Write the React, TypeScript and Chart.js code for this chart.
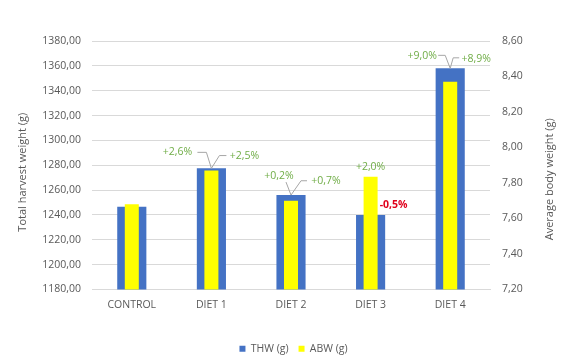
import React, { useEffect, useRef } from "react";
import { Chart, registerables } from "chart.js";

Chart.register(...registerables);

const categories = ["CONTROL", "DIET 1", "DIET 2", "DIET 3", "DIET 4"];
const thwValues = [1246.5, 1277.5, 1256, 1240, 1358];
const abwValues = [7.68, 7.87, 7.70, 7.835, 8.37];
const thwChange = ["", "+2,6%", "+0,2%", "-0,5%", "+9,0%"];
const abwChange = ["", "+2,5%", "+0,7%", "+2,0%", "+8,9%"];
const leftTitle = "Total harvest weight (g)";
const rightTitle = "Average body weight (g)";

const FONT = "'Open Sans', sans-serif";
const GREEN = "#70AD47";
const RED = "#E0001B";
const GRAY_TEXT = "#595959";

// label layout: offsets of text centre from the bar top; leader points relative to text centre
type Lay = { dx: number; dy: number; lead?: number[][] } | null;
const thwLayout: Lay[] = [
  null,
  { dx: -34, dy: -16, lead: [[20, 0], [29, 0]] },
  { dx: -12, dy: -19, lead: [[7, 6]] },
  { dx: 23, dy: -10 },
  { dx: -28, dy: -12, lead: [[16, -1], [23, -1]] },
];
const abwLayout: Lay[] = [
  null,
  { dx: 33, dy: -15, lead: [[-18, 0], [-25, 0]] },
  { dx: 35, dy: -20, lead: [[-19, 0], [-25, 0]] },
  { dx: 0, dy: -10 },
  { dx: 26, dy: -23, lead: [[-17, -1], [-23, -1]] },
];

const labelPlugin = {
  id: "pctLabels",
  afterDatasetsDraw(chart: any) {
    const ctx = chart.ctx;
    const m0 = chart.getDatasetMeta(0);
    const m1 = chart.getDatasetMeta(1);
    ctx.save();
    ctx.textAlign = "center";
    ctx.textBaseline = "middle";
    categories.forEach((_, i) => {
      const e0 = m0.data[i];
      const e1 = m1.data[i];
      const groupTop = Math.min(e0.y, e1.y);
      const items = [
        { el: e0, text: thwChange[i], lay: thwLayout[i] },
        { el: e1, text: abwChange[i], lay: abwLayout[i] },
      ];
      items.forEach(({ el, text, lay }) => {
        if (!text || !lay) return;
        const tx = el.x + lay.dx;
        const ty = el.y + lay.dy;
        if (lay.lead) {
          ctx.beginPath();
          ctx.strokeStyle = "#A6A6A6";
          ctx.lineWidth = 1;
          lay.lead.forEach((p, k) => {
            if (k === 0) ctx.moveTo(tx + p[0], ty + p[1]);
            else ctx.lineTo(tx + p[0], ty + p[1]);
          });
          ctx.lineTo(el.x, groupTop);
          ctx.stroke();
        }
        const neg = text.startsWith("-");
        ctx.fillStyle = neg ? RED : GREEN;
        ctx.font = `${neg ? "bold " : ""}10.5px ${FONT}`;
        ctx.fillText(text, tx, ty);
      });
    });
    ctx.restore();
  },
};

const titlePlugin = {
  id: "axisTitles",
  afterDraw(chart: any) {
    const ctx = chart.ctx;
    const a = chart.chartArea;
    const mid = (a.top + a.bottom) / 2;
    ctx.save();
    ctx.fillStyle = GRAY_TEXT;
    ctx.font = `11px ${FONT}`;
    ctx.textAlign = "center";
    ctx.textBaseline = "middle";
    ctx.translate(23, mid + 7);
    ctx.rotate(-Math.PI / 2);
    ctx.fillText(leftTitle, 0, 0);
    ctx.restore();
    ctx.save();
    ctx.fillStyle = GRAY_TEXT;
    ctx.font = `11px ${FONT}`;
    ctx.textAlign = "center";
    ctx.textBaseline = "middle";
    ctx.translate(a.right + 60, mid + 14);
    ctx.rotate(-Math.PI / 2);
    ctx.fillText(rightTitle, 0, 0);
    ctx.restore();
  },
};

const fmt = (v: any) => Number(v).toFixed(2).replace(".", ",");

export default function App() {
  const ref = useRef<HTMLCanvasElement>(null);
  useEffect(() => {
    if (!ref.current) return;
    const chart = new Chart(ref.current, {
      type: "bar",
      data: {
        labels: categories,
        datasets: [
          {
            label: "THW (g)",
            data: thwValues,
            yAxisID: "y",
            backgroundColor: "#4472C4",
            barPercentage: 0.366,
            categoryPercentage: 1,
            grouped: false,
            order: 2,
          },
          {
            label: "ABW (g)",
            data: abwValues,
            yAxisID: "y2",
            backgroundColor: "#FFFF00",
            barPercentage: 0.176,
            categoryPercentage: 1,
            grouped: false,
            order: 1,
          },
        ],
      },
      options: {
        responsive: false,
        animation: false,
        layout: { padding: { top: 41, left: 0, right: 0, bottom: 0 } },
        plugins: {
          legend: {
            position: "bottom",
            labels: {
              boxWidth: 6,
              boxHeight: 6,
              padding: 10,
              color: GRAY_TEXT,
              font: { family: FONT, size: 10.5 },
              sort: (a: any, b: any) => a.datasetIndex - b.datasetIndex,
            },
          },
          tooltip: { enabled: false },
        },
        scales: {
          x: {
            grid: { display: false, drawTicks: false },
            border: { display: true, color: "#D9D9D9" },
            ticks: { color: GRAY_TEXT, font: { family: FONT, size: 10.5 }, padding: 9 },
            afterFit: (s: any) => { s.height = 44; },
          },
          y: {
            position: "left",
            min: 1180,
            max: 1380,
            ticks: { stepSize: 20, color: GRAY_TEXT, font: { family: FONT, size: 10.5 }, padding: 11, callback: fmt },
            grid: { color: "#D9D9D9", drawTicks: false },
            border: { display: false },
            afterFit: (s: any) => { s.width = 92; },
          },
          y2: {
            position: "right",
            min: 7.2,
            max: 8.6,
            ticks: { stepSize: 0.2, color: GRAY_TEXT, font: { family: FONT, size: 10.5 }, padding: 12, callback: fmt },
            grid: { display: false, drawTicks: false },
            border: { display: false },
            afterFit: (s: any) => { s.width = 97; },
          },
        },
      },
      plugins: [labelPlugin, titlePlugin],
    } as any);
    return () => chart.destroy();
  }, []);
  return (
    <div style={{ position: "fixed", left: 0, top: 0, width: 587, height: 364, background: "#fff" }}>
      <canvas ref={ref} width={587} height={364} />
    </div>
  );
}
